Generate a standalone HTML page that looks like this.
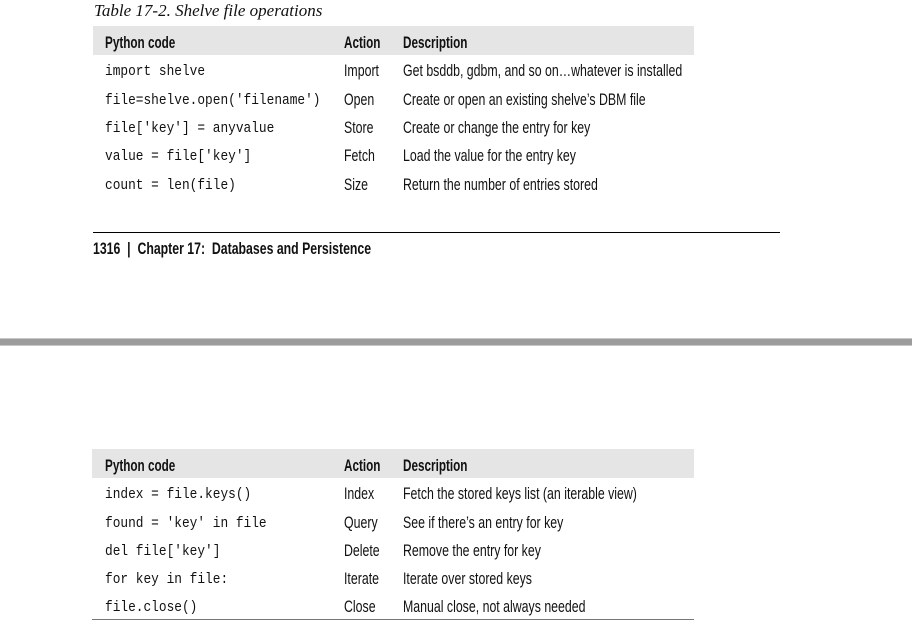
<!DOCTYPE html>
<html><head><meta charset="utf-8"><style>
body{margin:0;width:912px;height:628px;background:#fff;position:relative;overflow:hidden;font-family:"Liberation Sans Narrow","Liberation Sans",sans-serif;color:#111}
div{position:absolute;white-space:nowrap}
.s{font-size:16.5px;line-height:18px;transform:scaleX(0.748);transform-origin:0 0}
.m{font-family:"Liberation Mono",monospace;font-size:15px;line-height:18px;transform:translateY(1px) scaleX(0.855);transform-origin:0 0}
.h{font-weight:bold;font-size:16.5px;line-height:18px;transform:scaleX(0.71);transform-origin:0 0}
.band{background:#e5e5e5}
</style></head><body>
<div style="left:94px;top:0px;font-family:'Liberation Serif',serif;font-style:italic;font-size:17px;line-height:21px">Table 17-2. Shelve file operations</div>
<div class="band" style="left:93px;top:26px;width:601px;height:29px"></div>
<div class="h" style="left:105px;top:34px">Python code</div>
<div class="h" style="left:344px;top:34px">Action</div>
<div class="h" style="left:403px;top:34px">Description</div>

<div class="m" style="left:105px;top:62px">import shelve</div><div class="s" style="left:344px;top:62px">Import</div><div class="s" style="left:403px;top:62px">Get bsddb, gdbm, and so on…whatever is installed</div>
<div class="m" style="left:105px;top:91px">file=shelve.open('filename')</div><div class="s" style="left:344px;top:91px">Open</div><div class="s" style="left:403px;top:91px">Create or open an existing shelve’s DBM file</div>
<div class="m" style="left:105px;top:119px">file['key'] = anyvalue</div><div class="s" style="left:344px;top:119px">Store</div><div class="s" style="left:403px;top:119px">Create or change the entry for key</div>
<div class="m" style="left:105px;top:147px">value = file['key']</div><div class="s" style="left:344px;top:147px">Fetch</div><div class="s" style="left:403px;top:147px">Load the value for the entry key</div>
<div class="m" style="left:105px;top:176px">count = len(file)</div><div class="s" style="left:344px;top:176px">Size</div><div class="s" style="left:403px;top:176px">Return the number of entries stored</div>

<div style="left:93px;top:232px;width:687px;height:1px;background:#000"></div>
<div class="h" style="left:93px;top:240px;transform:scaleX(0.745)">1316 &nbsp;| &nbsp;Chapter 17: &nbsp;Databases and Persistence</div>

<div style="left:0;top:338px;width:912px;height:8px;background:#9c9c9c;border-top:1px solid #c8c8c8;border-bottom:1px solid #c8c8c8;box-sizing:border-box"></div>

<div class="band" style="left:92px;top:449px;width:602px;height:29px"></div>
<div class="h" style="left:105px;top:457px">Python code</div>
<div class="h" style="left:344px;top:457px">Action</div>
<div class="h" style="left:403px;top:457px">Description</div>

<div class="m" style="left:105px;top:485px">index = file.keys()</div><div class="s" style="left:344px;top:485px">Index</div><div class="s" style="left:403px;top:485px">Fetch the stored keys list (an iterable view)</div>
<div class="m" style="left:105px;top:514px">found = 'key' in file</div><div class="s" style="left:344px;top:514px">Query</div><div class="s" style="left:403px;top:514px">See if there’s an entry for key</div>
<div class="m" style="left:105px;top:542px">del file['key']</div><div class="s" style="left:344px;top:542px">Delete</div><div class="s" style="left:403px;top:542px">Remove the entry for key</div>
<div class="m" style="left:105px;top:570px">for key in file:</div><div class="s" style="left:344px;top:570px">Iterate</div><div class="s" style="left:403px;top:570px">Iterate over stored keys</div>
<div class="m" style="left:105px;top:598px">file.close()</div><div class="s" style="left:344px;top:598px">Close</div><div class="s" style="left:403px;top:598px">Manual close, not always needed</div>
<div style="left:92px;top:619px;width:602px;height:1px;background:#777"></div>
</body></html>
